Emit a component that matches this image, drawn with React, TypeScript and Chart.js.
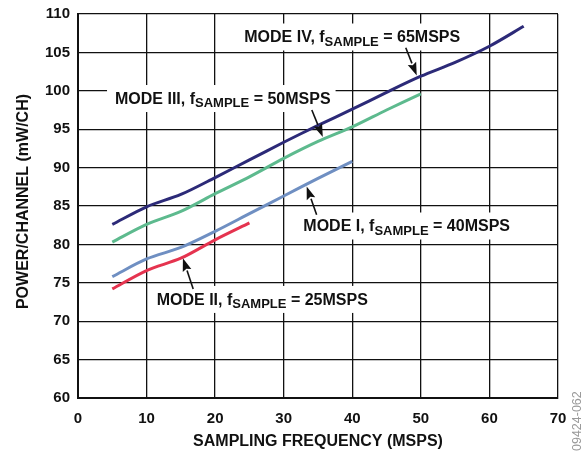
import React, { useEffect, useRef } from "react";
import { Chart, registerables } from "chart.js";

Chart.register(...registerables);

const xTicks = [0, 10, 20, 30, 40, 50, 60, 70];
const yTicks = [60, 65, 70, 75, 80, 85, 90, 95, 100, 105, 110];

const modeIVx = [5, 10, 15, 20, 25, 30, 35, 40, 45, 50, 55, 60, 65];
const modeIVy = [82.6, 84.9, 86.5, 88.7, 91.0, 93.3, 95.5, 97.6, 99.8, 101.9, 103.7, 105.8, 108.4];

const modeIIIx = [5, 10, 15, 20, 25, 30, 35, 40, 45, 50];
const modeIIIy = [80.3, 82.6, 84.3, 86.6, 88.8, 91.2, 93.4, 95.3, 97.5, 99.6];

const modeIx = [5, 10, 15, 20, 25, 30, 35, 40];
const modeIy = [75.8, 78.1, 79.6, 81.7, 84.0, 86.3, 88.6, 90.8];

const modeIIx = [5, 10, 15, 20, 25];
const modeIIy = [74.2, 76.6, 78.2, 80.6, 82.8];

const xTitle = "SAMPLING FREQUENCY (MSPS)";
const yTitle = "POWER/CHANNEL (mW/CH)";
const figCode = "09424-062";

// annotation labels: text position (data coords, left edge / vertical middle), arrow tail & head (data coords)
const labels = [
  { main: "MODE IV, f", sub: "SAMPLE", rest: " = 65MSPS", x: 24.25, y: 107.07, tail: [47.8, 105.6], head: [49.4, 102.0] },
  { main: "MODE III, f", sub: "SAMPLE", rest: " = 50MSPS", x: 5.4, y: 99.06, tail: [34.1, 97.5], head: [35.7, 94.0] },
  { main: "MODE I, f", sub: "SAMPLE", rest: " = 40MSPS", x: 32.86, y: 82.46, tail: [34.8, 83.87], head: [33.35, 87.55] },
  { main: "MODE II, f", sub: "SAMPLE", rest: " = 25MSPS", x: 11.48, y: 72.9, tail: [16.8, 74.2], head: [15.3, 78.2] },
];

const FONT = "'Liberation Sans', Arial, sans-serif";

const annotationPlugin = {
  id: "annots",
  afterDatasetsDraw(chart: any) {
    const ctx = chart.ctx;
    const xs = chart.scales.x;
    const ys = chart.scales.y;
    ctx.save();
    for (const l of labels) {
      const px = xs.getPixelForValue(l.x);
      const py = ys.getPixelForValue(l.y);
      ctx.font = `bold 16px ${FONT}`;
      const w1 = ctx.measureText(l.main).width;
      const w3 = ctx.measureText(l.rest).width;
      ctx.font = `bold 13px ${FONT}`;
      const w2 = ctx.measureText(l.sub).width;
      const total = w1 + w2 + w3;
      ctx.fillStyle = "#ffffff";
      ctx.fillRect(px - 8, py - 13, total + 13, 27);
      ctx.fillStyle = "#111111";
      ctx.textBaseline = "alphabetic";
      ctx.textAlign = "left";
      ctx.font = `bold 16px ${FONT}`;
      ctx.fillText(l.main, px, py + 5.7);
      ctx.font = `bold 13px ${FONT}`;
      ctx.fillText(l.sub, px + w1, py + 9.4);
      ctx.font = `bold 16px ${FONT}`;
      ctx.fillText(l.rest, px + w1 + w2, py + 5.7);

      // arrow
      const tx = xs.getPixelForValue(l.tail[0]);
      const ty = ys.getPixelForValue(l.tail[1]);
      const hx = xs.getPixelForValue(l.head[0]);
      const hy = ys.getPixelForValue(l.head[1]);
      const ang = Math.atan2(hy - ty, hx - tx);
      const hl = 13;
      const hw = 4.5;
      const bx = hx - hl * Math.cos(ang);
      const by = hy - hl * Math.sin(ang);
      ctx.strokeStyle = "#111111";
      ctx.lineWidth = 1.6;
      ctx.beginPath();
      ctx.moveTo(tx, ty);
      ctx.lineTo(bx, by);
      ctx.stroke();
      ctx.beginPath();
      ctx.moveTo(hx, hy);
      ctx.lineTo(bx + hw * Math.sin(ang), by - hw * Math.cos(ang));
      ctx.lineTo(bx + 2 * Math.cos(ang), by + 2 * Math.sin(ang));
      ctx.lineTo(bx - hw * Math.sin(ang), by + hw * Math.cos(ang));
      ctx.closePath();
      ctx.fillStyle = "#111111";
      ctx.fill();
    }
    // y axis title
    ctx.save();
    ctx.translate(23.5, 201.5);
    ctx.rotate(-Math.PI / 2);
    ctx.font = `bold 16px ${FONT}`;
    ctx.fillStyle = "#111111";
    ctx.textAlign = "center";
    ctx.textBaseline = "middle";
    ctx.fillText(yTitle, 0, 0);
    ctx.restore();
    // side code
    ctx.save();
    ctx.translate(578, 451);
    ctx.rotate(-Math.PI / 2);
    ctx.font = `12.5px ${FONT}`;
    ctx.fillStyle = "#999999";
    ctx.textAlign = "left";
    ctx.textBaseline = "middle";
    ctx.fillText(figCode, 0, 0);
    ctx.restore();
    ctx.restore();
  },
};

const toPts = (xs: number[], ys: number[]) => xs.map((x, i) => ({ x, y: ys[i] }));

export default function App() {
  const ref = useRef<HTMLCanvasElement>(null);
  useEffect(() => {
    document.body.style.margin = "0";
    const canvas = ref.current!;
    const chart = new Chart(canvas, {
      type: "line",
      data: {
        datasets: [
          { label: "Mode IV", data: toPts(modeIVx, modeIVy), borderColor: "#2c2a78", borderWidth: 3, pointRadius: 0, tension: 0.3, fill: false },
          { label: "Mode III", data: toPts(modeIIIx, modeIIIy), borderColor: "#5dba8e", borderWidth: 3, pointRadius: 0, tension: 0.3, fill: false },
          { label: "Mode I", data: toPts(modeIx, modeIy), borderColor: "#6f8fc2", borderWidth: 3, pointRadius: 0, tension: 0.3, fill: false },
          { label: "Mode II", data: toPts(modeIIx, modeIIy), borderColor: "#e5334f", borderWidth: 3, pointRadius: 0, tension: 0.3, fill: false },
        ],
      },
      options: {
        responsive: false,
        animation: false,
        layout: { padding: { left: 0, right: 26, top: 14, bottom: 0 } },
        plugins: { legend: { display: false }, tooltip: { enabled: false } },
        scales: {
          x: {
            type: "linear",
            min: 0,
            max: 70,
            afterBuildTicks: (s: any) => { s.ticks = xTicks.map((v) => ({ value: v })); },
            afterFit: (s: any) => { s.height = 53; s.paddingLeft = 0; s.paddingRight = 0; },
            grid: { color: "#111111", lineWidth: 1.3, drawTicks: false },
            border: { color: "#111111", width: 2 },
            ticks: { padding: 12, color: "#111111", font: { family: FONT, size: 15, weight: "bold" }, maxRotation: 0 },
            title: { display: true, text: xTitle, color: "#111111", font: { family: FONT, size: 16, weight: "bold" }, padding: { top: 0, bottom: 0 } },
          },
          y: {
            type: "linear",
            min: 60,
            max: 110,
            afterBuildTicks: (s: any) => { s.ticks = yTicks.map((v) => ({ value: v })); },
            afterFit: (s: any) => { s.width = 78; s.paddingTop = 0; s.paddingBottom = 0; },
            grid: { color: "#111111", lineWidth: 1.3, drawTicks: false },
            border: { color: "#111111", width: 2 },
            ticks: { padding: 8, color: "#111111", font: { family: FONT, size: 15, weight: "bold" } },
            title: { display: false },
          },
        },
      },
      plugins: [annotationPlugin],
    } as any);
    return () => chart.destroy();
  }, []);
  return (
    <div style={{ width: 584, height: 451, background: "#fff" }}>
      <canvas ref={ref} width={584} height={451} style={{ display: "block" }} />
    </div>
  );
}
